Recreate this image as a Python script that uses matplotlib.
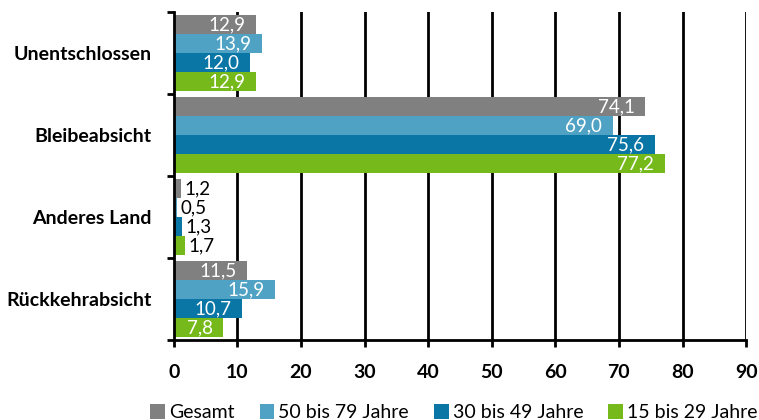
import numpy as np
import matplotlib.pyplot as plt
from matplotlib.patches import Patch

plt.rcParams['font.family'] = ['Lato', 'DejaVu Sans']

categories = ['Unentschlossen', 'Bleibeabsicht', 'Anderes Land', 'Rückkehrabsicht']
series = ['Gesamt', '50 bis 79 Jahre', '30 bis 49 Jahre', '15 bis 29 Jahre']
gesamt = [12.9, 74.1, 1.2, 11.5]
alt_50_79 = [13.9, 69.0, 0.5, 15.9]
alt_30_49 = [12.0, 75.6, 1.3, 10.7]
alt_15_29 = [12.9, 77.2, 1.7, 7.8]
xticks = [0, 10, 20, 30, 40, 50, 60, 70, 80, 90]

values = [gesamt, alt_50_79, alt_30_49, alt_15_29]
colors = ['#808080', '#4fa2c4', '#0a76a6', '#75b91a']

fig = plt.figure(figsize=(7.59, 4.20), dpi=100)
ax = fig.add_axes([0.229, 0.19, 0.754, 0.781])

h = 0.23
ypos = np.arange(len(categories))
for i, (vals, col) in enumerate(zip(values, colors)):
    y = ypos + (i - 1.5) * h
    ax.barh(y, vals, height=h, color=col, zorder=3)
    for yy, v in zip(y, vals):
        txt = f'{v:.1f}'.replace('.', ',')
        if v >= 5:
            ax.annotate(txt, (v, yy), xytext=(-7.5, 0), textcoords='offset points',
                        ha='right', va='center', color='white', fontsize=13.5, zorder=4)
        else:
            ax.annotate(txt, (v, yy), xytext=(2.5, 0), textcoords='offset points',
                        ha='left', va='center', color='black', fontsize=13.5, zorder=4)

ax.set_xlim(0, 90)
ax.set_ylim(3.5, -0.5)
ax.set_xticks(xticks)
ax.set_xticklabels([str(t) for t in xticks], fontweight='bold', fontsize=14)
ax.set_yticks(ypos)
ax.set_yticklabels(categories, fontweight='bold', fontsize=14)
ax.set_yticks(np.arange(-0.5, 4.0, 1.0), minor=True)
ax.tick_params(axis='y', which='major', length=0, pad=16)
ax.tick_params(axis='y', which='minor', length=5, width=2, direction='out')
ax.tick_params(axis='x', length=5, width=2, direction='out', pad=12)

for x in xticks[1:]:
    ax.axvline(x, color='black', linewidth=2, zorder=2)

for s in ['top', 'right']:
    ax.spines[s].set_visible(False)
for s in ['left', 'bottom']:
    ax.spines[s].set_linewidth(2)
    ax.spines[s].set_zorder(5)

handles = [Patch(facecolor=c, label=s) for c, s in zip(colors, series)]
fig.legend(handles=handles, loc='lower right', bbox_to_anchor=(1.021, -0.045),
           ncol=4, frameon=False, fontsize=14, handlelength=0.75, handleheight=0.75,
           handletextpad=0.2, columnspacing=1.3)

fig.savefig('out.png', dpi=100)
